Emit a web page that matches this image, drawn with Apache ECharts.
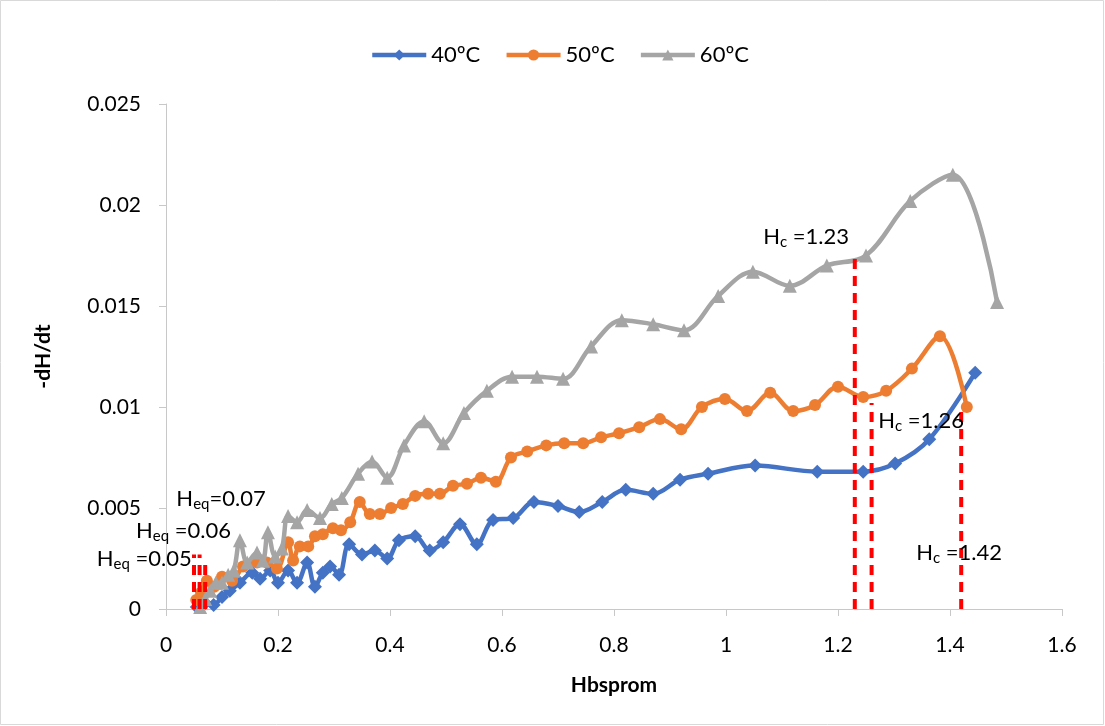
<!DOCTYPE html>
<html><head><meta charset="utf-8">
<script src="https://cdn.jsdelivr.net/npm/echarts@6/dist/echarts.min.js"></script>
<style>html,body{margin:0;padding:0;background:#fff}#c{width:1105px;height:726px}</style>
</head><body><div id="c"></div>
<script>
// ---- data ----
const seriesNames = ['40ºC', '50ºC', '60ºC'];
const x40 = [0.055,0.07,0.085,0.1,0.114,0.132,0.154,0.168,0.186,0.2,0.218,0.234,0.252,0.266,0.28,0.293,0.309,0.327,0.35,0.373,0.395,0.416,0.445,0.471,0.495,0.525,0.555,0.584,0.62,0.657,0.70,0.738,0.779,0.821,0.87,0.918,0.968,1.052,1.163,1.245,1.302,1.363,1.445];
const y40 = [0.0001,0.0003,0.0002,0.0006,0.0009,0.0013,0.0018,0.0015,0.0019,0.0013,0.0019,0.0013,0.0023,0.0011,0.0018,0.0021,0.0017,0.0032,0.0027,0.0029,0.0025,0.0034,0.0036,0.0029,0.0033,0.0042,0.0032,0.0044,0.0045,0.0053,0.0051,0.0048,0.0053,0.0059,0.0057,0.0064,0.0067,0.0071,0.0068,0.0068,0.0072,0.0084,0.0117];
const x50 = [0.054,0.0625,0.073,0.086,0.1,0.118,0.1375,0.1625,0.18,0.198,0.218,0.227,0.239,0.254,0.266,0.28,0.298,0.3125,0.329,0.346,0.364,0.382,0.402,0.423,0.445,0.468,0.489,0.5125,0.5375,0.5625,0.589,0.616,0.645,0.679,0.711,0.745,0.777,0.809,0.845,0.882,0.92,0.957,0.998,1.0375,1.079,1.12,1.159,1.2,1.245,1.286,1.332,1.382,1.43];
const y50 = [0.00045,0.0008,0.0014,0.0011,0.0016,0.0014,0.0021,0.0023,0.0023,0.002,0.0033,0.0024,0.0031,0.0031,0.0036,0.0037,0.004,0.0039,0.0043,0.0053,0.0047,0.0047,0.005,0.0052,0.0056,0.0057,0.0057,0.0061,0.0062,0.0065,0.0063,0.0075,0.0078,0.0081,0.0082,0.0082,0.0085,0.0087,0.009,0.0094,0.0089,0.01,0.0104,0.0098,0.0107,0.0098,0.0101,0.011,0.0105,0.0108,0.0119,0.0135,0.01];
const x60 = [0.061,0.07,0.079,0.089,0.1,0.111,0.121,0.132,0.145,0.1625,0.173,0.182,0.195,0.207,0.218,0.234,0.252,0.275,0.296,0.314,0.343,0.368,0.395,0.425,0.461,0.495,0.532,0.573,0.618,0.6625,0.709,0.759,0.814,0.87,0.925,0.986,1.048,1.114,1.18,1.25,1.329,1.405,1.484];
const y60 = [0.0001,0.0005,0.0009,0.0013,0.0013,0.0017,0.0019,0.0034,0.0023,0.0028,0.0024,0.0038,0.0026,0.003,0.0046,0.0043,0.0049,0.0045,0.0052,0.0055,0.0067,0.0073,0.0065,0.0081,0.0093,0.0082,0.0097,0.0108,0.0115,0.0115,0.0114,0.013,0.0143,0.0141,0.0138,0.0155,0.0167,0.016,0.017,0.0175,0.0202,0.0215,0.0152];

// vertical dashed marker lines (H value, top of the line)
const markerX   = [0.05, 0.06, 0.07, 1.23, 1.26, 1.42];
const markerTop = [0.0027, 0.0027, 0.0025, 0.0174, 0.0102, 0.0101];

// annotation texts and their anchor (right edge, middle) in data units
const annotSub  = ['c', 'c', 'c', 'eq', 'eq', 'eq'];
const annotRest = [' =1.23', ' =1.26', ' =1.42', '=0.07', ' =0.06', ' =0.05'];
const annotX    = [1.2196, 1.425, 1.493, 0.178, 0.116, 0.046];
const annotY    = [0.01842, 0.0093, 0.00277, 0.00545, 0.00386, 0.00248];

const xTicks = { min: 0, max: 1.6, interval: 0.2 };
const yTicks = { min: 0, max: 0.025, interval: 0.005 };

// ---- chart ----
const FONT = 'Lato';
const FS = 21;
const colors = ['#4472C4', '#ED7D31', '#A5A5A5'];
const symbols = ['diamond', 'circle', 'triangle'];
const symSizes = [14, 12, 14];
const xs = [x40, x50, x60], ys = [y40, y50, y60];
const pairs = (a, b) => a.map((v, i) => [v, b[i]]);

const series = [];
seriesNames.forEach((n, i) => {
  series.push({
    name: n, type: 'line', data: pairs(xs[i], ys[i]),
    smooth: 0.35, symbol: symbols[i], symbolSize: symSizes[i], showSymbol: true,
    color: colors[i], lineStyle: { width: 4.5, color: colors[i] },
    itemStyle: { color: colors[i] }, z: 2 + i, silent: true
  });
});
markerX.forEach((x, i) => {
  series.push({
    name: 'marker' + i, type: 'line', data: [[x, 0], [x, markerTop[i]]],
    symbol: 'none', silent: true, z: 10,
    lineStyle: { color: '#FF0000', width: 4, type: [10, 7], cap: 'butt' }
  });
});
series.push({
  name: 'annotations', type: 'scatter', silent: true, clip: false, z: 20,
  symbolSize: 0.001, itemStyle: { color: '#000', opacity: 0 },
  data: annotX.map((x, i) => ({
    value: [x, annotY[i]],
    label: { formatter: '{h|H}{s|' + annotSub[i] + '}{h|' + annotRest[i] + '}' }
  })),
  label: {
    show: true, position: [0, 0], align: 'right', verticalAlign: 'middle',
    color: '#000', opacity: 1, fontFamily: FONT, fontSize: 22,
    rich: {
      h: { fontFamily: FONT, fontSize: 22, lineHeight: 26, color: '#000', opacity: 1 },
      s: { fontFamily: FONT, fontSize: 15, lineHeight: 14, verticalAlign: 'bottom', color: '#000', opacity: 1 }
    }
  }
});

const axisCommon = {
  axisLine: { show: true, lineStyle: { color: '#C8C8C8', width: 1 } },
  axisTick: { show: true, inside: false, length: 7, lineStyle: { color: '#C8C8C8' } },
  splitLine: { show: false },
  axisLabel: { fontFamily: FONT, fontSize: FS, color: '#000' },
  nameTextStyle: { fontFamily: FONT, fontSize: FS, fontWeight: 'bold', color: '#000' },
  nameLocation: 'middle'
};

const chart = echarts.init(document.getElementById('c'), null, { renderer: 'canvas' });
chart.setOption({
  animation: false,
  backgroundColor: '#fff',
  textStyle: { fontFamily: FONT },
  grid: { left: 166, right: 43, top: 104, bottom: 117 },
  legend: {
    data: seriesNames, left: 365, top: 39, itemWidth: 54, itemHeight: 14, itemGap: 24,
    lineStyle: { width: 4.5 },
    textStyle: { fontFamily: FONT, fontSize: 22, color: '#000' }
  },
  xAxis: Object.assign({}, axisCommon, {
    type: 'value', min: xTicks.min, max: xTicks.max, interval: xTicks.interval,
    name: 'Hbsprom', nameGap: 66,
    axisLabel: Object.assign({}, axisCommon.axisLabel, { margin: 26 })
  }),
  yAxis: Object.assign({}, axisCommon, {
    type: 'value', min: yTicks.min, max: yTicks.max, interval: yTicks.interval,
    name: '-dH/dt', nameGap: 112,
    axisLabel: Object.assign({}, axisCommon.axisLabel, { margin: 25 })
  }),
  graphic: [{
    type: 'rect', shape: { x: 0.5, y: 0.5, width: 1103, height: 724 },
    style: { fill: 'none', stroke: '#D9D9D9', lineWidth: 1 }, silent: true, z: -1
  }],
  series: series
});
</script>
</body></html>
